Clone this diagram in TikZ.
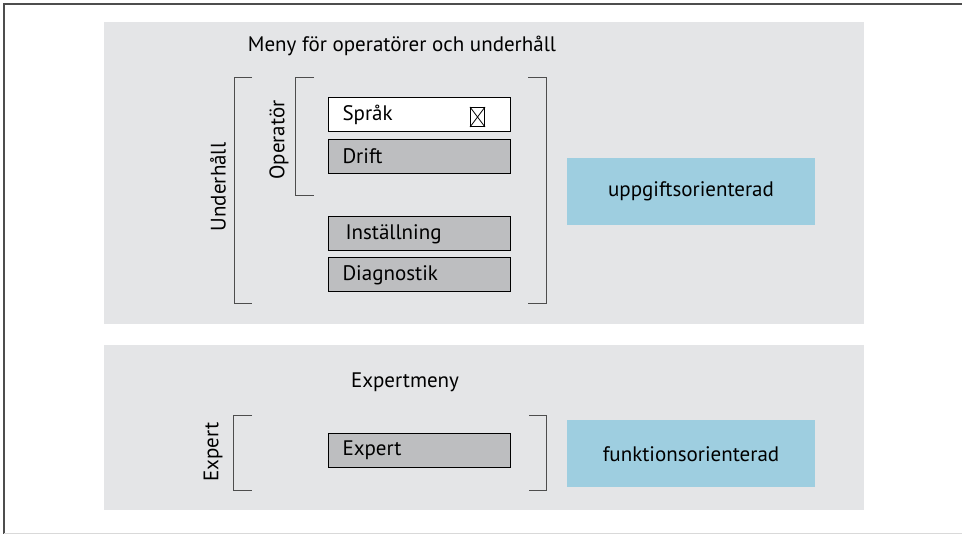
\documentclass[tikz,border=0pt]{standalone}
\usepackage{fontspec}
\setmainfont{PT Sans}
\definecolor{panel}{HTML}{E4E5E7}
\definecolor{boxgray}{HTML}{BDBEC0}
\definecolor{blu}{HTML}{9ECEE0}
\definecolor{frame}{HTML}{4D4D4D}
\begin{document}
\begin{tikzpicture}[x=1pt,y=-1pt,
  txt/.style={font=\fontsize{21}{23}\selectfont, inner sep=0pt},
  menubox/.style={draw=black, line width=1pt, fill=boxgray, minimum height=34pt,
    text width=154pt, inner xsep=14pt, inner ysep=0pt, align=left,
    font=\fontsize{21}{23}\selectfont},
  bluebox/.style={fill=blu, minimum width=248pt, minimum height=67pt, inner sep=0pt,
    font=\fontsize{21}{23}\selectfont},
  brk/.style={draw=frame, line width=1pt}]
\useasboundingbox (0,0) rectangle (962,534);
\fill[white] (0,0) rectangle (962,534);
% frame
\draw[frame, line width=1.2pt] (4,534) -- (4,4) -- (962,4);
\draw[gray!30, line width=0.6pt] (4,533.5) -- (962,533.5);
% panels
\fill[panel] (104,22) rectangle (864,324);
\fill[panel] (104,345) rectangle (864,510);
% titles
\node[txt] (t1) at (402,46) {Meny för operatörer och underhåll};
\node[txt] (t2) at (405,382) {Expertmeny};
% brackets
\draw[brk] (252,78) -- (234,78) -- (234,304) -- (252,304);
\draw[brk] (314,78) -- (295,78) -- (295,196) -- (314,196);
\draw[brk] (528,78) -- (546,78) -- (546,304) -- (528,304);
\draw[brk] (252,416) -- (233,416) -- (233,491) -- (252,491);
\draw[brk] (529,416) -- (546,416) -- (546,491) -- (529,491);
% vertical labels
\node[txt, rotate=90] (lu) at (218,187) {Underhåll};
\node[txt, rotate=90] (lo) at (279,140) {Operatör};
\node[txt, rotate=90] (le) at (213,452) {Expert};
% menu boxes
\node[menubox, fill=white] (sprak) at (419.5,115) {Språk};
\node[draw=black, line width=1pt, minimum width=14pt, minimum height=19pt, inner sep=0pt] (cross) at (477.5,117) {};
\draw[line width=0.8pt] (cross.north west) -- (cross.south east);
\draw[line width=0.8pt] (cross.south west) -- (cross.north east);
\node[menubox] (drift) at (419.5,156.5) {Drift};
\node[menubox] (inst) at (419.5,234) {\hspace*{3pt}Inställning};
\node[menubox] (diag) at (419.5,275) {Diagnostik};
\node[menubox] (exp) at (419.5,450.5) {Expert};
% blue boxes
\node[bluebox] (upp) at (691,191.5) {uppgiftsorienterad};
\node[bluebox] (fun) at (691,454) {funktionsorienterad};
\end{tikzpicture}
\end{document}
